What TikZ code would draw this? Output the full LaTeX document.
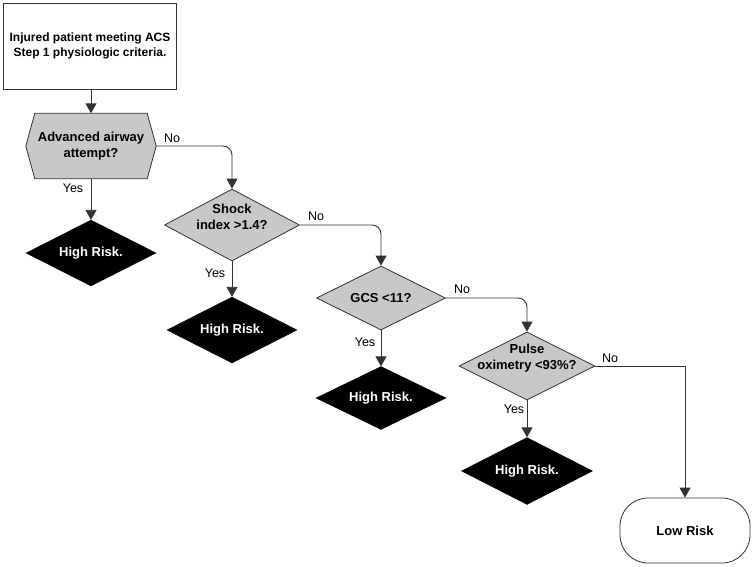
\documentclass[tikz,border=0pt]{standalone}
\usepackage{fontspec}
\setmainfont{Liberation Sans}
\usetikzlibrary{shapes.geometric,arrows.meta,backgrounds}
\definecolor{qgray}{RGB}{200,200,200}
\definecolor{edgec}{RGB}{50,50,50}
\tikzset{
  dia/.style={diamond, draw=edgec, fill=qgray, inner sep=0pt, line width=0.8pt},
  risk/.style={diamond, draw=black, fill=black, inner sep=0pt, minimum width=130pt, minimum height=66pt},
  dtext/.style={font=\bfseries\fontsize{13}{16}\selectfont, align=center, inner sep=0pt},
  wtext/.style={dtext, text=white},
  conn/.style={draw=edgec, line width=0.9pt, -{Triangle[width=11pt,length=10pt]}},
  lbl/.style={font=\fontsize{12.5}{14}\selectfont, inner sep=0pt}
}
\begin{document}
\begin{tikzpicture}[x=1pt,y=-1pt]
\useasboundingbox (0,0) rectangle (754,566);

% start box
\node (start) [draw=edgec, line width=0.8pt, minimum width=173pt, minimum height=86pt,
  font=\bfseries\fontsize{12}{15.5}\selectfont, align=center] at (90,46)
  {Injured patient meeting ACS\\Step 1 physiologic criteria.};

% hexagon
\node (adv) [minimum width=130pt, minimum height=65pt, dtext, inner sep=0pt] at (91,146)
  {Advanced airway\\attempt?};
\begin{scope}[on background layer]
\fill[white] (0,0) rectangle (754,566);
\draw[draw=edgec, fill=qgray, line width=0.8pt]
  (adv.west) -- ([xshift=9pt]adv.north west) -- ([xshift=-9pt]adv.north east)
  -- (adv.east) -- ([xshift=-9pt]adv.south east) -- ([xshift=9pt]adv.south west) -- cycle;
\end{scope}

% decisions
\node (shock) [dia, minimum width=135pt, minimum height=72pt,
  label={[dtext,yshift=8pt]center:{Shock\\index >1.4?}}] at (232,225) {};
\node (gcs) [dia, minimum width=129pt, minimum height=64pt,
  label={[dtext]center:{GCS <11?}}] at (381,298) {};
\node (pulse) [dia, minimum width=136pt, minimum height=68pt,
  label={[dtext,yshift=8pt]center:{Pulse\\oximetry <93\%?}}] at (527,366) {};

% high risk
\node (hr1) [risk, label={[wtext]center:{High Risk.}}] at (91,253) {};
\node (hr2) [risk, label={[wtext]center:{High Risk.}}] at (232,330) {};
\node (hr3) [risk, minimum height=63pt, label={[wtext]center:{High Risk.}}] at (381,398) {};
\node (hr4) [risk, minimum width=131pt, minimum height=67pt, label={[wtext]center:{High Risk.}}] at (527,471) {};

% low risk
\node (low) [draw=edgec, line width=0.8pt, rounded corners=28pt, minimum width=130pt,
  minimum height=65pt, dtext] at (685,530.5) {Low Risk};

% connectors
\draw[conn] (start.south -| adv.north) -- (adv.north);
\draw[conn] (adv.south) -- (hr1.north);
\draw[conn, rounded corners=9pt] (adv.east) -| (shock.north);
\draw[conn] (shock.south) -- (hr2.north);
\draw[conn, rounded corners=9pt] (shock.east) -| (gcs.north);
\draw[conn] (gcs.south) -- (hr3.north);
\draw[conn, rounded corners=9pt] (gcs.east) -| (pulse.north);
\draw[conn] (pulse.south) -- (hr4.north);
\draw[conn] (pulse.east) -| (low.north);

% edge labels
\node[lbl] (l1) at (172,138) {No};
\node[lbl] (l2) at (73,188) {Yes};
\node[lbl] (l3) at (316,216) {No};
\node[lbl] (l4) at (215,273) {Yes};
\node[lbl] (l5) at (462,289) {No};
\node[lbl] (l6) at (365,342) {Yes};
\node[lbl] (l7) at (610,358) {No};
\node[lbl] (l8) at (514,409) {Yes};
\end{tikzpicture}
\end{document}
